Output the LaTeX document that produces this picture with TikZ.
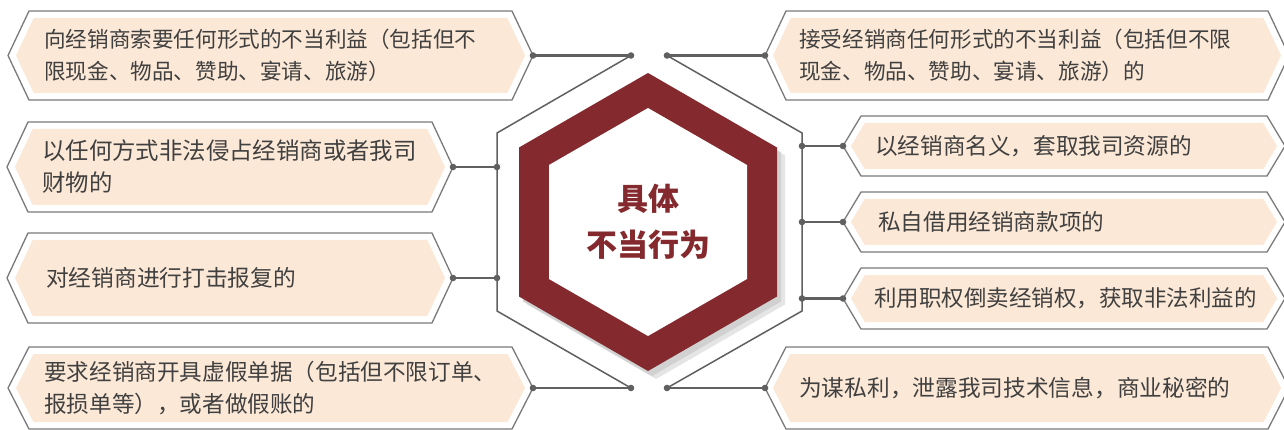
\documentclass[tikz,border=0pt]{standalone}
\usepackage{fontspec}
\setmainfont{Noto Sans CJK SC}
\definecolor{boxfill}{RGB}{252,232,214}
\definecolor{boxline}{RGB}{122,122,122}
\definecolor{conn}{RGB}{96,96,96}
\definecolor{hexred}{RGB}{132,41,46}
\definecolor{txt}{RGB}{64,64,64}
\tikzset{
  outl/.style={draw=boxline, line width=1.3pt, line join=miter},
  infill/.style={fill=boxfill},
  hexedge/.style={draw=conn, line width=1.5pt},
  conline/.style={draw=conn, line width=2.2pt},
  dotmark/.style={fill=conn},
  btext/.style={anchor=west, inner sep=0pt, align=left, text=txt},
  ctext/.style={inner sep=0pt, align=center, text=hexred, font=\fontsize{31}{46}\selectfont\bfseries}
}
\newcommand\hexbox[6]{%
  \pgfmathsetmacro\ym{(#4+#5)/2}%
  \pgfmathsetmacro\hh{(#5-#4)/2}%
  \pgfmathsetmacro\ii{#6*(\hh-7)/\hh}%
  \path[outl] (#2,\ym) -- (#2+#6,#4) -- (#3-#6,#4) -- (#3,\ym) -- (#3-#6,#5) -- (#2+#6,#5) -- cycle;
  \path[infill] (#2+8,\ym) -- (#2+8+\ii,#4+7) -- (#3-8-\ii,#4+7) -- (#3-8,\ym) -- (#3-8-\ii,#5-7) -- (#2+8+\ii,#5-7) -- cycle;
  \coordinate (#1-w) at (#2,\ym);
  \coordinate (#1-e) at (#3,\ym);
}
\begin{document}
\begin{tikzpicture}[x=1pt,y=-1pt]
\useasboundingbox (0,0) rectangle (1284,430);
\clip (0,0) rectangle (1284,430);
\fill[white] (0,0) rectangle (1284,430);

% boxes
\hexbox{L1}{8}{533}{11}{100}{21}
\hexbox{L2}{7}{453}{122}{212}{21}
\hexbox{L3}{7}{453}{233}{323}{21}
\hexbox{L4}{8}{533}{347}{429}{21}
\hexbox{R1}{765}{1289}{11}{100}{21}
\hexbox{R2}{843}{1285}{116}{176}{18}
\hexbox{R3}{843}{1285}{192}{252}{18}
\hexbox{R4}{843}{1285}{268}{329}{18}
\hexbox{R5}{765}{1289}{347}{429}{21}

% texts
\node[btext, font=\fontsize{21.6}{32}\selectfont] (tL1) at (44,55.5) {向经销商索要任何形式的不当利益（包括但不\\限现金、物品、赞助、宴请、旅游）};
\node[btext, font=\fontsize{23.4}{32}\selectfont] (tL2) at (42,167) {以任何方式非法侵占经销商或者我司\\财物的};
\node[btext, font=\fontsize{22.7}{32}\selectfont] (tL3) at (46,278) {对经销商进行打击报复的};
\node[btext, font=\fontsize{22.6}{32}\selectfont] (tL4) at (44,388) {要求经销商开具虚假单据（包括但不限订单、\\报损单等），或者做假账的};
\node[btext, font=\fontsize{21.6}{32}\selectfont] (tR1) at (799,55.5) {接受经销商任何形式的不当利益（包括但不限\\现金、物品、赞助、宴请、旅游）的};
\node[btext, font=\fontsize{22.6}{32}\selectfont] (tR2) at (875,146) {以经销商名义，套取我司资源的};
\node[btext, font=\fontsize{22.6}{32}\selectfont] (tR3) at (878,222) {私自借用经销商款项的};
\node[btext, font=\fontsize{22.5}{32}\selectfont] (tR4) at (874,298.5) {利用职权倒卖经销权，获取非法利益的};
\node[btext, font=\fontsize{22.7}{32}\selectfont] (tR5) at (799,388) {为谋私利，泄露我司技术信息，商业秘密的};

% outer hexagon points
\coordinate (hLT) at (497,133);
\coordinate (hLB) at (497,311);
\coordinate (hRT) at (802,133);
\coordinate (hRB) at (802,311);
\coordinate (dL1) at (631,55.5);
\coordinate (dR1) at (667,55.5);
\coordinate (dL4) at (631,388);
\coordinate (dR5) at (667,388);
\coordinate (dL2) at (497,167);
\coordinate (dL3) at (497,278);
\coordinate (dR2) at (802,146);
\coordinate (dR3) at (802,222);
\coordinate (dR4) at (802,298.5);

\path[hexedge] (dL1) -- (hLT) -- (hLB) -- (dL4);
\path[hexedge] (dR1) -- (hRT) -- (hRB) -- (dR5);

% connectors
\path[conline] (L1-e) -- (dL1);
\path[conline] (L2-e) -- (dL2);
\path[conline] (L3-e) -- (dL3);
\path[conline] (L4-e) -- (dL4);
\path[conline] (R1-w) -- (dR1);
\path[conline] (R2-w) -- (dR2);
\path[conline] (R3-w) -- (dR3);
\path[conline] (R4-w) -- (dR4);
\path[conline] (R5-w) -- (dR5);

\foreach \p in {dL1,dL2,dL3,dL4,dR1,dR2,dR3,dR4,dR5,L1-e,L2-e,L3-e,L4-e,R1-w,R2-w,R3-w,R4-w,R5-w}
  \fill[dotmark] (\p) circle (3.3);

% red hexagon with shadow
\fill[black!10] ([shift={(8,8)}]648,73) -- ([shift={(8,8)}]777,147.5) -- ([shift={(8,8)}]777,296.5) -- ([shift={(8,8)}]648,371) -- ([shift={(8,8)}]519,296.5) -- ([shift={(8,8)}]519,147.5) -- cycle;
\fill[black!18] ([shift={(4,5)}]648,73) -- ([shift={(4,5)}]777,147.5) -- ([shift={(4,5)}]777,296.5) -- ([shift={(4,5)}]648,371) -- ([shift={(4,5)}]519,296.5) -- ([shift={(4,5)}]519,147.5) -- cycle;
\fill[hexred] (648,73) -- (777,147.5) -- (777,296.5) -- (648,371) -- (519,296.5) -- (519,147.5) -- cycle;
\fill[white] (648,108) -- (747,165) -- (747,279) -- (648,336) -- (549,279) -- (549,165) -- cycle;

\node[ctext] (center) at (648,222) {具体\\不当行为};
\end{tikzpicture}
\end{document}
